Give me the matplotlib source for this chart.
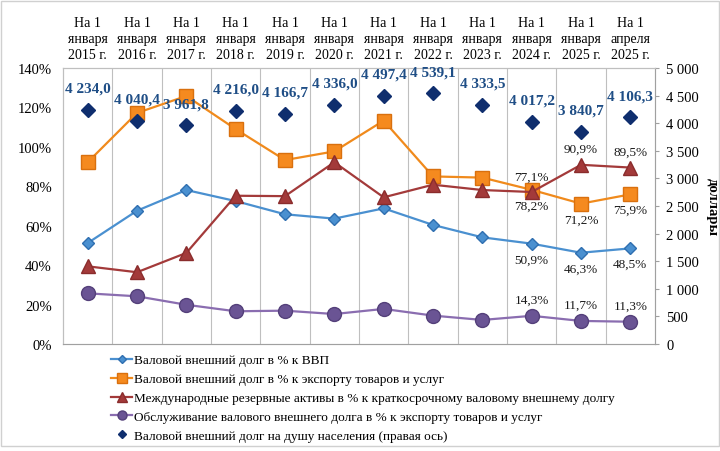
import numpy as np
import matplotlib
matplotlib.use('Agg')
import matplotlib.pyplot as plt
from matplotlib.patches import Rectangle

plt.rcParams['font.family'] = ['Liberation Serif', 'DejaVu Serif']

categories = ['На 1\nянваря\n2015 г.', 'На 1\nянваря\n2016 г.', 'На 1\nянваря\n2017 г.',
              'На 1\nянваря\n2018 г.', 'На 1\nянваря\n2019 г.', 'На 1\nянваря\n2020 г.',
              'На 1\nянваря\n2021 г.', 'На 1\nянваря\n2022 г.', 'На 1\nянваря\n2023 г.',
              'На 1\nянваря\n2024 г.', 'На 1\nянваря\n2025 г.', 'На 1\nапреля\n2025 г.']

debt_gdp = [51.2, 67.6, 78.1, 72.5, 65.8, 63.6, 68.8, 60.4, 54.1, 50.9, 46.3, 48.5]
debt_export = [92.2, 117.2, 125.8, 109.0, 93.3, 97.7, 113.3, 85.0, 84.4, 78.2, 71.2, 75.9]
reserves_short = [39.4, 36.4, 46.2, 75.2, 75.0, 92.2, 74.4, 80.8, 78.1, 77.1, 90.9, 89.5]
service_export = [25.7, 24.2, 19.9, 16.6, 16.9, 15.2, 17.8, 14.4, 12.2, 14.3, 11.7, 11.3]
debt_per_capita = [4234.0, 4040.4, 3961.8, 4216.0, 4166.7, 4336.0, 4497.4, 4539.1, 4333.5,
                   4017.2, 3840.7, 4106.3]

names = ['Валовой внешний долг в % к ВВП',
         'Валовой внешний долг в % к экспорту товаров и услуг',
         'Международные резервные активы в % к краткосрочному валовому внешнему долгу',
         'Обслуживание валового внешнего долга в % к экспорту товаров и услуг',
         'Валовой внешний долг на душу населения (правая ось)']

def fmt(v, dec=1):
    s = f'{v:,.{dec}f}'.replace(',', ' ').replace('.', ',')
    return s

x = np.arange(len(categories))

fig = plt.figure(figsize=(7.2, 4.52), dpi=100)
ax = fig.add_axes([63 / 720, 1 - 345 / 452, 592 / 720, 276 / 452])
ax2 = ax.twinx()

grid_c = '#BFBFBF'
for b in np.arange(0.5, len(categories) - 1, 1.0):
    ax.axvline(b, color=grid_c, lw=0.8, zorder=0)

l1, = ax.plot(x, debt_gdp, color='#4A90D0', lw=1.6, marker='D', ms=6,
              mfc='#4A90D0', mec='#2F6FB0', zorder=3)
l2, = ax.plot(x, debt_export, color='#F08A1C', lw=1.6, marker='s', ms=10,
              mfc='#F58A1F', mec='#D9700E', zorder=3)
l3, = ax.plot(x, reserves_short, color='#A33A3A', lw=1.6, marker='^', ms=10,
              mfc='#A33A3A', mec='#8A2C2C', zorder=3)
l4, = ax.plot(x, service_export, color='#8A6DB0', lw=1.6, marker='o', ms=10,
              mfc='#6A5494', mec='#54407A', zorder=3)
l5, = ax2.plot(x, debt_per_capita, ls='none', marker='D', ms=7,
               mfc='#0F2E6E', mec='#0F2E6E', zorder=4)

ax.set_xlim(-0.5, len(categories) - 0.5)
ax.set_ylim(0, 140)
ax2.set_ylim(0, 5000)
ax.set_yticks(np.arange(0, 141, 20))
ax.set_yticklabels([f'{v}%' for v in range(0, 141, 20)], fontsize=10.5)
ax2.set_yticks(np.arange(0, 5001, 500))
ax2.set_yticklabels([fmt(v, 0) for v in range(0, 5001, 500)], fontsize=10.5)
ax.tick_params(axis='y', length=0, pad=8)
ax2.tick_params(axis='y', length=3, color='#A0A0A0', pad=5)

ax.xaxis.tick_top()
ax.set_xticks(x)
ax.set_xticklabels(categories, fontsize=10, linespacing=1.3)
ax.tick_params(axis='x', length=0, pad=5)

for a in (ax, ax2):
    for s in a.spines.values():
        s.set_color(grid_c)
        s.set_linewidth(0.8)
ax2.spines['right'].set_color('#A0A0A0')
ax2.spines['bottom'].set_color('#A0A0A0')

ax2.set_ylabel('доллары', rotation=270, fontsize=10.5, fontweight='bold', labelpad=14)

# labels for debt per capita
for i, v in enumerate(debt_per_capita):
    ax2.annotate(fmt(v), (x[i], v), xytext=(0, 11), textcoords='offset points',
                 ha='center', va='bottom', fontsize=11, fontweight='bold', color='#1F4E86')

# labels for last three points
lab_pts = [(debt_gdp, -1, 'top'), (debt_export, -1, 'top'),
           (reserves_short, 1, 'bottom'), (service_export, 1, 'bottom')]
for series, sgn, va in lab_pts:
    for i in range(9, 12):
        ax.annotate(fmt(series[i]) + '%', (x[i], series[i]), xytext=(0, 7 * sgn),
                    textcoords='offset points', ha='center', va=va, fontsize=9.5,
                    color='#1A1A1A', zorder=5)

fig.legend([l1, l2, l3, l4, l5], names, loc='upper left',
           bbox_to_anchor=(102 / 720, 1 - 346 / 452), frameon=False, fontsize=9.5,
           handlelength=1.6, handletextpad=0.15, labelspacing=0.5, borderpad=0.2,
           markerscale=0.65)

fig.patches.append(Rectangle((0.002, 0.01), 0.996, 0.985, transform=fig.transFigure,
                             fill=False, ec='#D0D0D0', lw=1.0))

fig.savefig('out.png', dpi=100)
